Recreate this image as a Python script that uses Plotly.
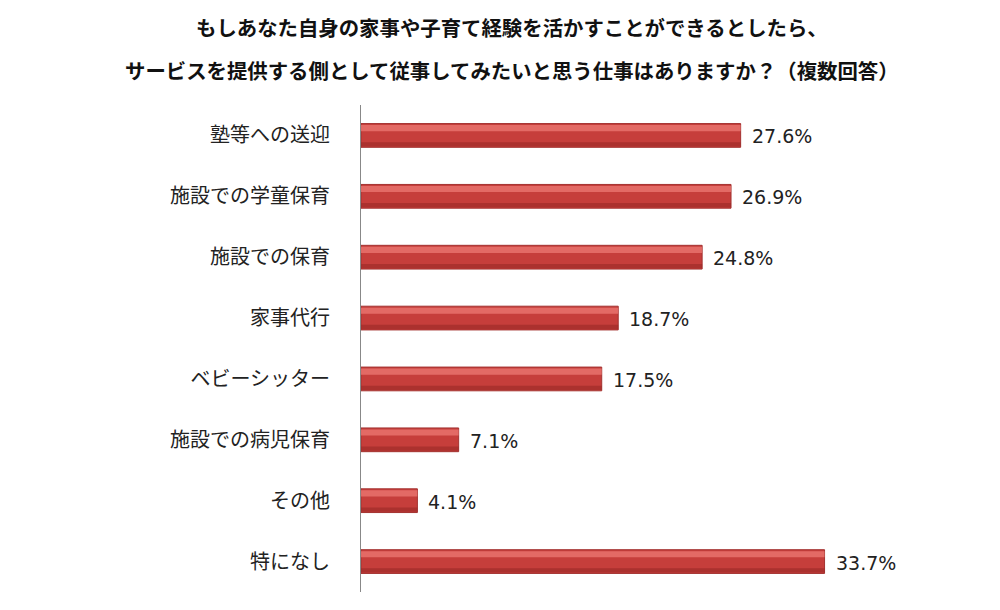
import plotly.graph_objects as go

categories = ["塾等への送迎", "施設での学童保育", "施設での保育", "家事代行",
              "ベビーシッター", "施設での病児保育", "その他", "特になし"]
values = [27.6, 26.9, 24.8, 18.7, 17.5, 7.1, 4.1, 33.7]
title_lines = ["もしあなた自身の家事や子育て経験を活かすことができるとしたら、",
               "サービスを提供する側として従事してみたいと思う仕事はありますか？（複数回答）"]

L, R, T, B = 361, 20, 105, 18
W, H = 1000, 610

fig = go.Figure()
fig.add_trace(go.Bar(
    y=categories, x=values, orientation="h", width=0.39,
    marker=dict(color="#C63E3B", line=dict(color="#A33230", width=1)),
    hoverinfo="skip", showlegend=False,
))
fig.add_trace(go.Bar(
    y=categories, x=values, orientation="h", width=0.10, offset=-0.17,
    marker=dict(color="rgba(240,125,120,0.7)", line=dict(width=0)),
    hoverinfo="skip", showlegend=False,
))
fig.add_trace(go.Bar(
    y=categories, x=values, orientation="h", width=0.07, offset=0.11,
    marker=dict(color="rgba(150,38,36,0.55)", line=dict(width=0)),
    hoverinfo="skip", showlegend=False,
))

for c, v in zip(categories, values):
    fig.add_annotation(x=v, y=c, text=f"{v:.1f}%", showarrow=False,
                       xanchor="left", xshift=9, yshift=-1,
                       font=dict(family="DejaVu Sans", size=19, color="#222"))

pw = W - L - R
ph = H - T - B
for py, t in zip([27, 70], title_lines):
    fig.add_annotation(x=(512 - L) / pw, y=1 + (T - py) / ph, xref="paper", yref="paper",
                       text=f"<b>{t}</b>", showarrow=False, xanchor="center", yanchor="middle",
                       font=dict(family="Noto Sans CJK JP", size=20.4, color="#111"))

fig.update_layout(
    width=W, height=H, barmode="overlay",
    margin=dict(l=L, r=R, t=T, b=B),
    paper_bgcolor="white", plot_bgcolor="white",
    xaxis=dict(range=[0, 45], visible=False, fixedrange=True),
    yaxis=dict(autorange="reversed", showline=True, linecolor="#888", linewidth=1,
               ticks="", ticklabelstandoff=26, showgrid=False,
               tickfont=dict(family="Noto Sans CJK JP", size=20, color="#222")),
)
fig.write_html("out.html")
